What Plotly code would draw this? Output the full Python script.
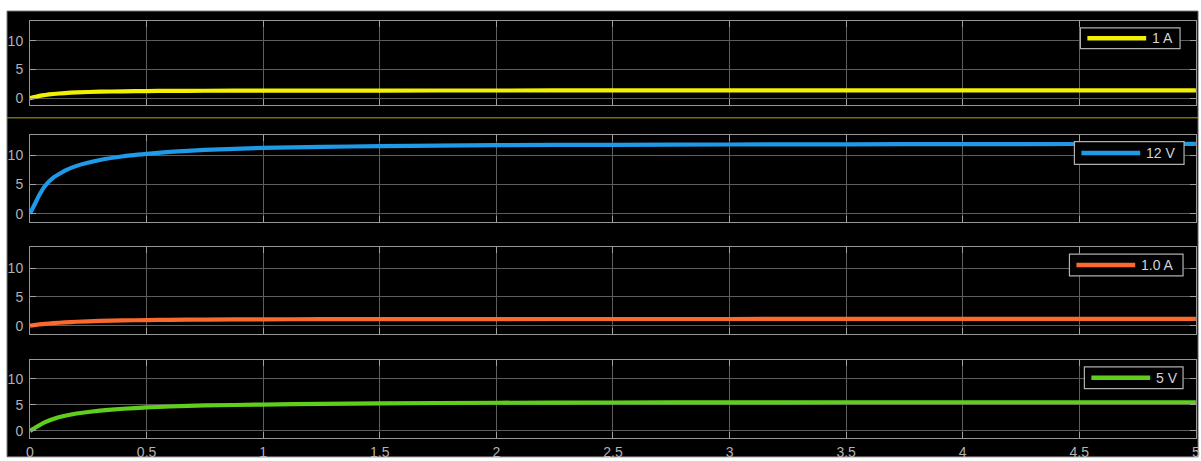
import plotly.graph_objects as go
from plotly.subplots import make_subplots

# Simulation time samples (s) and the four scope signals
t = [0, 0.01, 0.025, 0.04, 0.065, 0.1, 0.15, 0.2, 0.3, 0.4, 0.5, 0.6, 0.75,
     1.0, 1.25, 1.5, 2.0, 2.5, 3.0, 3.5, 4.0, 4.5, 5.0]

current_1a = [0.0, 0.1, 0.25, 0.38, 0.55, 0.72, 0.88, 1.0, 1.12, 1.18, 1.23, 1.26, 1.28,
              1.3, 1.31, 1.32, 1.33, 1.34, 1.35, 1.35, 1.36, 1.36, 1.36]
voltage_12v = [0.0, 0.8, 2.0, 3.2, 4.8, 6.2, 7.4, 8.2, 9.2, 9.85, 10.25, 10.6, 10.95,
               11.3, 11.45, 11.6, 11.75, 11.82, 11.87, 11.9, 11.93, 11.95, 11.96]
current_1_0a = [0.0, 0.05, 0.13, 0.2, 0.3, 0.42, 0.56, 0.67, 0.81, 0.9, 0.96, 1.0, 1.05,
                1.09, 1.11, 1.13, 1.14, 1.15, 1.15, 1.16, 1.16, 1.16, 1.16]
voltage_5v = [0.0, 0.3, 0.7, 1.1, 1.7, 2.3, 2.9, 3.35, 3.9, 4.25, 4.5, 4.68, 4.88,
              5.06, 5.2, 5.3, 5.4, 5.45, 5.48, 5.5, 5.5, 5.5, 5.5]

signals = [current_1a, voltage_12v, current_1_0a, voltage_5v]
labels = ["1 A", "12 V", "1.0 A", "5 V"]
colors = ["#f2f200", "#1e9ae8", "#fa6a2e", "#5fcf1c"]

x_ticks = [0, 0.5, 1, 1.5, 2, 2.5, 3, 3.5, 4, 4.5, 5]
y_ticks = [0, 5, 10]

W, H = 1201, 461
L, R, T, B = 30, 1, 21, 18
PW, PH = W - L - R, H - T - B


def px(x):
    return (x - L) / PW


def py(y):
    return (H - B - y) / PH


# pixel extents of the four scope panels (top, bottom)
panels = [(21, 106), (136, 224), (250, 338), (364, 443)]
y_ranges = [[-1.2, 13.45], [-1.36, 13.56], [-1.5, 13.6], [-1.35, 13.6]]
legend_boxes = [(1084, 28, 1184, 49), (1078, 143, 1188, 166),
                (1073, 257, 1187, 279), (1088, 371, 1187, 393)]

fig = make_subplots(rows=4, cols=1, shared_xaxes=False)

for i, (sig, col) in enumerate(zip(signals, colors)):
    fig.add_trace(go.Scatter(x=t, y=sig, mode="lines", name=labels[i],
                             line=dict(color=col, width=4.2, shape="spline", smoothing=0.3),
                             showlegend=False), row=i + 1, col=1)

axis_font = dict(family="Liberation Sans, Arial, sans-serif", size=14, color="#b2b2b2")
grid_col = "#5e5e5e"
line_col = "#969696"

fig.update_layout(
    width=W, height=H,
    margin=dict(l=L, r=R, t=T, b=B, pad=0),
    paper_bgcolor="white",
    plot_bgcolor="black",
    showlegend=False,
)

for i, (top, bot) in enumerate(panels):
    n = "" if i == 0 else str(i + 1)
    fig.layout["yaxis" + n].update(
        domain=[py(bot), py(top)], range=y_ranges[i], tickvals=y_ticks,
        showgrid=True, gridcolor=grid_col, gridwidth=1, zeroline=False,
        showline=True, linecolor=line_col, linewidth=1, mirror="ticks",
        ticks="inside", ticklen=6, tickcolor="#a0a0a0", tickfont=axis_font,
        ticklabelstandoff=3,
    )
    fig.layout["xaxis" + n].update(
        range=[0, 5.0005], tickvals=x_ticks, ticktext=[f"{v:g}" for v in x_ticks],
        showgrid=True, gridcolor=grid_col, gridwidth=1, zeroline=False,
        showline=True, linecolor=line_col, linewidth=1, mirror="ticks",
        ticks="inside", ticklen=6, tickcolor="#a0a0a0", tickfont=axis_font,
        showticklabels=(i == 3), ticklabeloverflow="allow",
        ticklabelstandoff=1,
    )

shapes = []
# black scope window behind the panels
shapes.append(dict(type="rect", xref="paper", yref="paper", layer="below",
                   x0=px(7), x1=px(1202), y0=py(462), y1=py(11),
                   fillcolor="black", line=dict(color="#606060", width=1)))
# thin yellow divider under the first panel
shapes.append(dict(type="line", xref="paper", yref="paper",
                   x0=px(7), x1=px(1202), y0=py(119), y1=py(119),
                   line=dict(color="#b8a800", width=1)))

annotations = []
for (x0, y0, x1, y1), col, lab in zip(legend_boxes, colors, labels):
    shapes.append(dict(type="rect", xref="paper", yref="paper",
                       x0=px(x0), x1=px(x1), y0=py(y1), y1=py(y0),
                       fillcolor="black", line=dict(color="#b0b0b0", width=1.2)))
    ym = (y0 + y1) / 2
    shapes.append(dict(type="line", xref="paper", yref="paper",
                       x0=px(x0 + 7), x1=px(x0 + 66), y0=py(ym), y1=py(ym),
                       line=dict(color=col, width=4.5)))
    annotations.append(dict(xref="paper", yref="paper", x=px(x0 + 70), y=py(ym),
                            xanchor="left", yanchor="middle", showarrow=False,
                            text=lab, font=dict(family="Liberation Sans, Arial, sans-serif",
                                                size=14, color="#d4d4d4")))

fig.update_layout(shapes=shapes, annotations=annotations)

fig.write_html("out.html")
